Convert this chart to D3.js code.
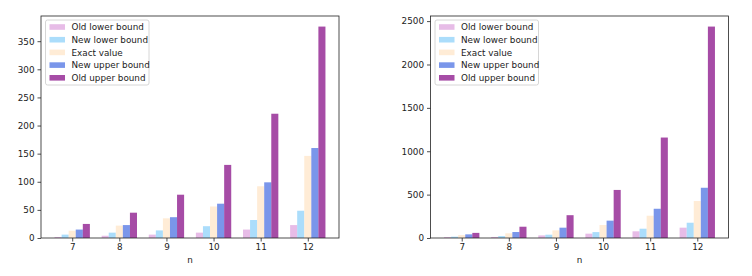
<!DOCTYPE html>
<html>
<head>
<meta charset="utf-8">
<script src="https://cdn.jsdelivr.net/npm/d3@7"></script>
<style>
  body { margin: 0; background: #fff; }
  svg { display: block; font-family: "DejaVu Sans", sans-serif; }
</style>
</head>
<body>
<div id="chart"></div>
<script>
// categories and series
const nValues = [7, 8, 9, 10, 11, 12];
const seriesNames = ["Old lower bound", "New lower bound", "Exact value", "New upper bound", "Old upper bound"];
const seriesColors = ["plum", "lightskyblue", "bisque", "royalblue", "purple"];

// left panel
const leftOldLower = [1.8, 4, 6, 9.5, 15, 23];
const leftNewLower = [6, 9.5, 13.5, 21, 32, 48.5];
const leftExact = [13, 22, 35, 56, 92, 146];
const leftNewUpper = [15, 23, 37, 61, 99, 160];
const leftOldUpper = [25, 45, 77, 130, 221, 376];
const leftTicks = [0, 50, 100, 150, 200, 250, 300, 350];

// right panel
const rightOldLower = [10, 12, 30, 50, 77, 119];
const rightNewLower = [15, 22, 38, 68, 107, 176];
const rightExact = [34, 54, 88, 150, 257, 426];
const rightNewUpper = [42, 69, 119, 200, 337, 579];
const rightOldUpper = [59, 130, 263, 554, 1158, 2437];
const rightTicks = [0, 500, 1000, 1500, 2000, 2500];

const layout = {
    width: 752,
    height: 276,
    plotWidth: 298,
    plotHeight: 222,
    top: 16,
    barWidth: 0.15,
    fontSize: 8.8
};

const svg = d3.select("#chart").append("svg")
    .attr("width", layout.width)
    .attr("height", layout.height);

function drawPanel(left, series, ticks) {
    let g = svg.append("g").attr("transform", `translate(${left},${layout.top})`);

    let xScale = d3.scaleLinear()
        .domain([6.3375, 12.6625])
        .range([0, layout.plotWidth]);
    let yMax = d3.max(series[4]) * 1.05;
    let yScale = d3.scaleLinear()
        .domain([0, yMax])
        .range([layout.plotHeight, 0]);
    let bw = xScale(layout.barWidth) - xScale(0);

    // bars
    series.forEach((vals, s) => {
        g.append("g").selectAll("rect")
            .data(vals)
            .join("rect")
            .attr("x", (d, i) => xScale(nValues[i] + (s - 2) * layout.barWidth) - bw / 2)
            .attr("y", d => yScale(d))
            .attr("width", bw)
            .attr("height", d => yScale(0) - yScale(d))
            .attr("fill", seriesColors[s])
            .attr("fill-opacity", 0.7);
    });

    // axes
    let xAxis = g.append("g")
        .attr("transform", `translate(0,${layout.plotHeight})`)
        .call(d3.axisBottom(xScale).tickValues(nValues).tickSize(3.5).tickPadding(2.5).tickFormat(d3.format("d")));
    let yAxis = g.append("g")
        .call(d3.axisLeft(yScale).tickValues(ticks).tickSize(3.5).tickPadding(3).tickFormat(d3.format("d")));
    [xAxis, yAxis].forEach(ax => {
        ax.select(".domain").remove();
        ax.selectAll("text").attr("font-size", layout.fontSize).attr("fill", "#222")
            .attr("font-family", "DejaVu Sans, sans-serif");
        ax.selectAll("line").attr("stroke", "#222").attr("stroke-width", 0.8);
    });

    // frame
    g.append("rect")
        .attr("width", layout.plotWidth)
        .attr("height", layout.plotHeight)
        .attr("fill", "none")
        .attr("stroke", "#222")
        .attr("stroke-width", 0.8);

    // axis label
    g.append("text")
        .attr("x", layout.plotWidth / 2)
        .attr("y", layout.plotHeight + 25)
        .attr("text-anchor", "middle")
        .attr("font-size", layout.fontSize)
        .attr("fill", "#222")
        .text("n");

    // legend
    let legend = g.append("g").attr("transform", "translate(4.5,4)");
    legend.append("rect")
        .attr("width", 103.5)
        .attr("height", 65)
        .attr("rx", 2)
        .attr("fill", "white")
        .attr("fill-opacity", 0.8)
        .attr("stroke", "#ccc")
        .attr("stroke-width", 0.8);
    seriesNames.forEach((name, s) => {
        let row = legend.append("g").attr("transform", `translate(0,${7 + s * 12.7})`);
        row.append("rect")
            .attr("x", 4)
            .attr("y", -2.8)
            .attr("width", 15.5)
            .attr("height", 5.6)
            .attr("fill", seriesColors[s])
            .attr("fill-opacity", 0.7);
        row.append("text")
            .attr("x", 26)
            .attr("y", 3.2)
            .attr("font-size", layout.fontSize)
            .attr("fill", "#222")
            .text(name);
    });
}

drawPanel(41, [leftOldLower, leftNewLower, leftExact, leftNewUpper, leftOldUpper], leftTicks);
drawPanel(430.5, [rightOldLower, rightNewLower, rightExact, rightNewUpper, rightOldUpper], rightTicks);
</script>
</body>
</html>
